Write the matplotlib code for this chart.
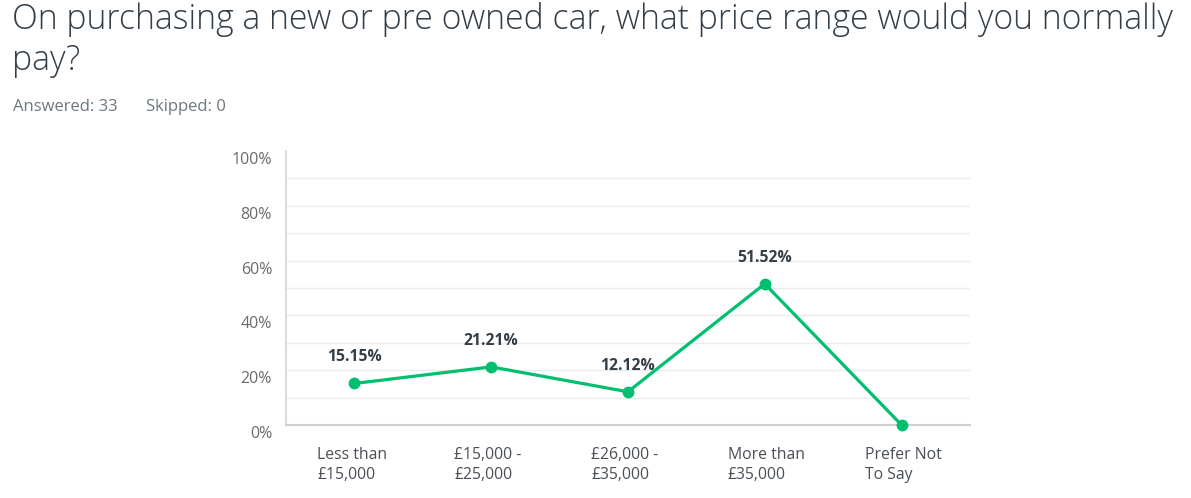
import matplotlib
matplotlib.use("Agg")
import matplotlib.pyplot as plt
import matplotlib.transforms as mtransforms
from matplotlib.ticker import FixedLocator

categories = ["Less than\n£15,000", "£15,000 -\n£25,000", "£26,000 -\n£35,000",
              "More than\n£35,000", "Prefer Not\nTo Say"]
values = [15.15, 21.21, 12.12, 51.52, 0.0]
value_labels = ["15.15%", "21.21%", "12.12%", "51.52%", ""]
ytick_values = [0, 20, 40, 60, 80, 100]
ytick_labels = ["0%", "20%", "40%", "60%", "80%", "100%"]

title = "On purchasing a new or pre owned car, what price range would you normally\npay?"
answered = "Answered: 33"
skipped = "Skipped: 0"

plt.rcParams['font.family'] = ['Open Sans', 'DejaVu Sans']

fig = plt.figure(figsize=(11.91, 4.98), dpi=100)
ax = fig.add_axes([0.2401, 0.1466, 0.5743, 0.5502])

xs = [i + 0.5 for i in range(len(categories))]
green = "#00BF6F"
ax.plot(xs, values, color=green, lw=2.3, marker='o', ms=7.5, zorder=3,
        clip_on=False, solid_capstyle='round')

for x, v, lab in zip(xs, values, value_labels):
    if lab:
        ax.annotate(lab, (x, v), xytext=(0, 13), textcoords='offset points',
                    ha='center', va='bottom', fontsize=11.3, fontweight='bold',
                    color="#333e48")

ax.set_xlim(0, 5)
ax.set_ylim(0, 100)
ax.yaxis.set_major_locator(FixedLocator(ytick_values))
ax.set_yticklabels(ytick_labels)
ax.grid(False)
for g in range(10, 100, 10):
    ax.axhline(g, color="#ebebeb", lw=1.0, zorder=0)

ax.set_xticks(xs)
ax.set_xticklabels([])
for x, c in zip(xs, categories):
    ax.text(x - 0.27, -8.0, c, ha='left', va='top', fontsize=11.3,
            color="#4a4f55", linespacing=1.3, transform=ax.transData)

ax.tick_params(axis='both', length=0, which='both')
ax.tick_params(axis='y', labelsize=11.5, labelcolor="#6b6b6b", pad=10)
offset = mtransforms.ScaledTranslation(0, -7/100, fig.dpi_scale_trans)
for lbl in ax.get_yticklabels():
    lbl.set_transform(lbl.get_transform() + offset)

for s in ['top', 'right']:
    ax.spines[s].set_visible(False)
ax.spines['left'].set_color("#d4d4d4")
ax.spines['left'].set_linewidth(1.2)
ax.spines['bottom'].set_color("#cfcfcf")
ax.spines['bottom'].set_linewidth(1.5)

fig.text(12/1191, 1 - 2/498, title, ha='left', va='top', fontsize=24.3,
         fontweight='light', color="#333e48", linespacing=1.25)
fig.text(13/1191, 1 - 107/498, answered, ha='left', va='center', fontsize=12,
         color="#6b787f")
fig.text(146/1191, 1 - 107/498, skipped, ha='left', va='center', fontsize=12,
         color="#6b787f")

fig.savefig("out.png", dpi=100)
